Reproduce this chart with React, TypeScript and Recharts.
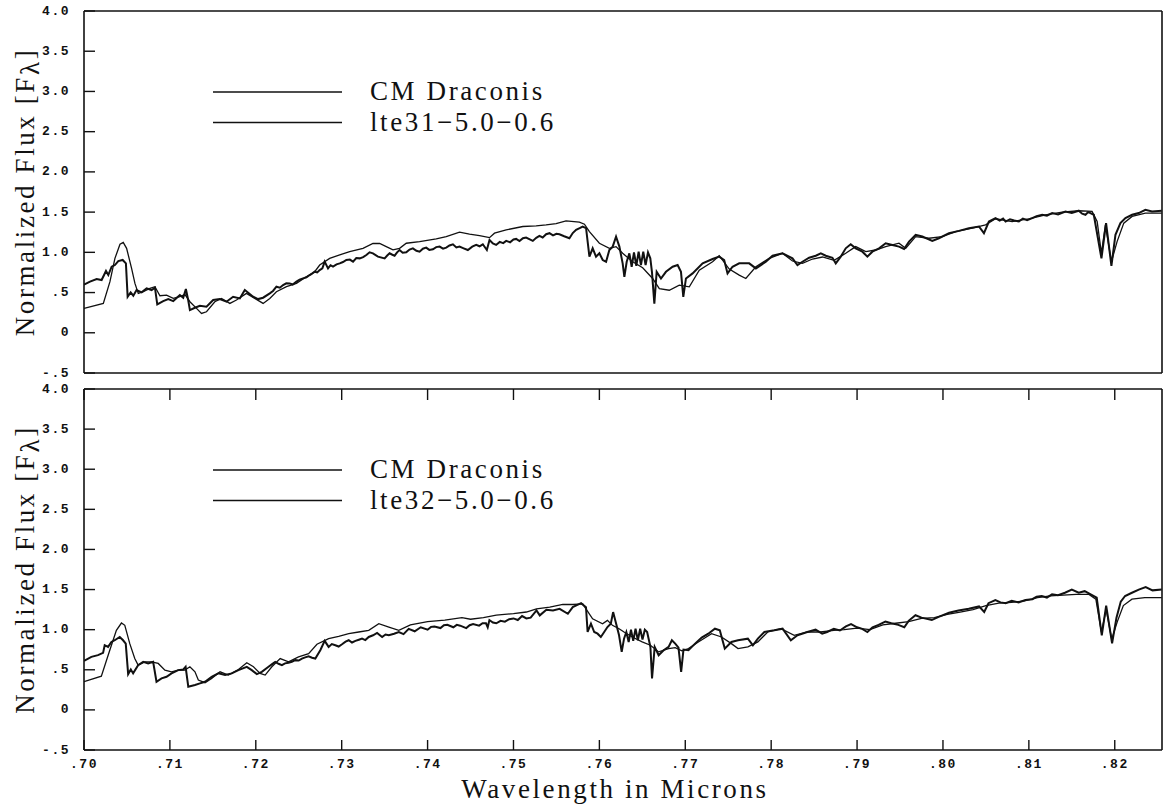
import React from 'react';
import { LineChart, Line, XAxis, YAxis, Legend } from 'recharts';

// ---------- axis ticks ----------
const xTicks = [0.70, 0.71, 0.72, 0.73, 0.74, 0.75, 0.76, 0.77, 0.78, 0.79, 0.80, 0.81, 0.82];
const xTickLabels = ['.70', '.71', '.72', '.73', '.74', '.75', '.76', '.77', '.78', '.79', '.80', '.81', '.82'];
const yTicks = [-0.5, 0, 0.5, 1, 1.5, 2, 2.5, 3, 3.5, 4];
const yTickLabels = ['-.5', '0', '.5', '1.0', '1.5', '2.0', '2.5', '3.0', '3.5', '4.0'];
const xDomain = [0.70, 0.8255];
const yDomain = [-0.5, 4];

// ---------- series names ----------
const observedName = 'CM Draconis';
const topModelName = 'lte31\u22125.0\u22120.6';
const bottomModelName = 'lte32\u22125.0\u22120.6';
const xTitle = 'Wavelength in Microns';

// ---------- top panel: CM Draconis ----------
const topObsWl = [
  0.70000, 0.70070, 0.70147, 0.70205, 0.70256, 0.70283, 0.70322, 0.70360, 0.70399, 0.70450,
  0.70488, 0.70508, 0.70543, 0.70574, 0.70612, 0.70671, 0.70729, 0.70787, 0.70826, 0.70853,
  0.70922, 0.70981, 0.71039, 0.71116, 0.71155, 0.71186, 0.71213, 0.71233, 0.71291, 0.71349,
  0.71426, 0.71504, 0.71581, 0.71659, 0.71736, 0.71814, 0.71872, 0.71969, 0.72027, 0.72085,
  0.72163, 0.72200, 0.72240, 0.72280, 0.72318, 0.72355, 0.72395, 0.72430, 0.72473, 0.72510,
  0.72550, 0.72590, 0.72628, 0.72655, 0.72686, 0.72715, 0.72744, 0.72775, 0.72802, 0.72841,
  0.72870, 0.72899, 0.72940, 0.72977, 0.73015, 0.73054, 0.73095, 0.73132, 0.73170, 0.73209,
  0.73250, 0.73287, 0.73325, 0.73364, 0.73422,
  0.73500, 0.73530, 0.73558, 0.73590, 0.73616, 0.73645, 0.73674, 0.73710, 0.73752, 0.73790,
  0.73829, 0.73870, 0.73907, 0.73945, 0.73984, 0.74020, 0.74062, 0.74100, 0.74140, 0.74180,
  0.74217, 0.74255, 0.74295, 0.74335, 0.74372, 0.74420, 0.74469, 0.74520, 0.74566, 0.74605,
  0.74643, 0.74690, 0.74721, 0.74760, 0.74798, 0.74840, 0.74880, 0.74915, 0.74960, 0.75000,
  0.75031, 0.75070, 0.75110, 0.75147, 0.75190, 0.75225, 0.75265, 0.75302, 0.75340, 0.75380,
  0.75419, 0.75460, 0.75500, 0.75535, 0.75590, 0.75651, 0.75690, 0.75729, 0.75770, 0.75806,
  0.75845, 0.75884,
  0.75922, 0.75961, 0.76000, 0.76039, 0.76078, 0.76116, 0.76155, 0.76194, 0.76233, 0.76271,
  0.76291, 0.76318, 0.76349, 0.76376, 0.76403, 0.76430, 0.76457, 0.76484, 0.76511, 0.76538,
  0.76566, 0.76593, 0.76612, 0.76640, 0.76667, 0.76717, 0.76775, 0.76853, 0.76911, 0.76950,
  0.76977, 0.77008, 0.77085, 0.77202, 0.77318, 0.77395, 0.77453, 0.77492, 0.77550, 0.77628,
  0.77744, 0.77822, 0.77938, 0.78016, 0.78132, 0.78209, 0.78248, 0.78306, 0.78364, 0.78442,
  0.78519, 0.78578, 0.78636, 0.78713, 0.78752, 0.78810, 0.78868, 0.78926, 0.78984, 0.79062,
  0.79120, 0.79178, 0.79256, 0.79333, 0.79411, 0.79488, 0.79547, 0.79605, 0.79682, 0.79760,
  0.79876, 0.79953, 0.80070, 0.80186, 0.80302, 0.80419, 0.80477, 0.80535, 0.80612, 0.80660,
  0.80700, 0.80729, 0.80780, 0.80830, 0.80884, 0.80930, 0.80980, 0.81039, 0.81090, 0.81155,
  0.81210, 0.81271, 0.81340, 0.81426, 0.81500, 0.81581, 0.81620, 0.81659, 0.81690, 0.81717,
  0.81756, 0.81845, 0.81899, 0.81961, 0.82008, 0.82066, 0.82124, 0.82202, 0.82279, 0.82357,
  0.82434, 0.82547,
];
const topObsFlux = [
  0.600, 0.635, 0.668, 0.656, 0.768, 0.718, 0.822, 0.842, 0.892, 0.905,
  0.863, 0.448, 0.502, 0.461, 0.531, 0.502, 0.552, 0.531, 0.560, 0.353,
  0.394, 0.419, 0.394, 0.469, 0.436, 0.544, 0.407, 0.282, 0.311, 0.336,
  0.324, 0.407, 0.419, 0.386, 0.448, 0.427, 0.531, 0.448, 0.419, 0.436,
  0.490, 0.520, 0.573, 0.560, 0.593, 0.615, 0.614, 0.600, 0.635, 0.660,
  0.676, 0.690, 0.718, 0.735, 0.759, 0.750, 0.780, 0.800, 0.884, 0.801,
  0.840, 0.822, 0.850, 0.863, 0.880, 0.905, 0.910, 0.884, 0.930, 0.925,
  0.940, 0.967, 1.000, 0.988, 0.946,
  0.925, 0.960, 0.988, 0.970, 0.958, 1.000, 1.029, 0.995, 1.000, 1.035,
  1.050, 1.020, 1.008, 1.045, 1.058, 1.030, 1.038, 1.065, 1.071, 1.045,
  1.058, 1.085, 1.100, 1.060, 1.071, 1.050, 1.029, 1.070, 1.092, 1.075,
  1.100, 1.029, 1.154, 1.110, 1.092, 1.130, 1.115, 1.142, 1.125, 1.160,
  1.167, 1.140, 1.175, 1.183, 1.160, 1.142, 1.180, 1.204, 1.185, 1.225,
  1.238, 1.210, 1.230, 1.225, 1.200, 1.175, 1.240, 1.279, 1.300, 1.321,
  1.300, 0.946,
  1.050, 0.946, 0.988, 0.904, 0.883, 1.029, 1.071, 1.196, 1.071, 0.863,
  0.696, 0.883, 0.988, 0.821, 1.000, 0.833, 1.008, 0.842, 1.008, 0.842,
  1.000, 0.925, 0.758, 0.363, 0.758, 0.675, 0.758, 0.821, 0.842, 0.758,
  0.446, 0.675, 0.738, 0.863, 0.917, 0.946, 0.904, 0.738, 0.821, 0.863,
  0.863, 0.800, 0.883, 0.958, 0.988, 0.946, 0.925, 0.842, 0.883, 0.933,
  0.958, 0.988, 0.958, 0.933, 0.863, 0.946, 1.050, 1.100, 1.050, 1.008,
  0.946, 1.008, 1.050, 1.113, 1.092, 1.071, 1.042, 1.133, 1.217, 1.196,
  1.142, 1.175, 1.238, 1.267, 1.300, 1.321, 1.238, 1.383, 1.425, 1.395,
  1.420, 1.383, 1.410, 1.395, 1.383, 1.420, 1.400, 1.425, 1.450, 1.467,
  1.455, 1.488, 1.470, 1.508, 1.490, 1.517, 1.480, 1.467, 1.500, 1.488,
  1.467, 0.925, 1.363, 0.833, 1.217, 1.363, 1.425, 1.467, 1.488, 1.529,
  1.508, 1.517,
];

// ---------- top panel: model lte31 ----------
const topModWl = [
  0.70000, 0.70225, 0.70302, 0.70360, 0.70419, 0.70457, 0.70496, 0.70554, 0.70593, 0.70632,
  0.70690, 0.70767, 0.70826, 0.70884, 0.70961, 0.71039, 0.71116, 0.71174, 0.71233, 0.71310,
  0.71368, 0.71426, 0.71523, 0.71601, 0.71698, 0.71775, 0.71891, 0.71988, 0.72085, 0.72163,
  0.72240, 0.72357, 0.72473, 0.72589, 0.72686, 0.72744, 0.72860, 0.72977, 0.73093, 0.73248,
  0.73364, 0.73442, 0.73519, 0.73597, 0.73674, 0.73752, 0.73907, 0.74101, 0.74217, 0.74372,
  0.74488, 0.74605, 0.74721, 0.74779, 0.74915, 0.75109, 0.75264, 0.75380, 0.75496, 0.75612,
  0.75767, 0.75826, 0.75884, 0.76000, 0.76116, 0.76194, 0.76271, 0.76388, 0.76504, 0.76620,
  0.76698, 0.76814, 0.76930, 0.77047, 0.77163, 0.77318, 0.77395, 0.77512, 0.77628, 0.77705,
  0.77822, 0.77977, 0.78132, 0.78248, 0.78364, 0.78481, 0.78597, 0.78733, 0.78868, 0.78984,
  0.79101, 0.79217, 0.79333, 0.79488, 0.79566, 0.79682, 0.79837, 0.79992, 0.80147, 0.80341,
  0.80496, 0.80612, 0.80806, 0.81000, 0.81194, 0.81388, 0.81581, 0.81736, 0.81795, 0.81845,
  0.81891, 0.81961, 0.82027, 0.82105, 0.82202, 0.82357, 0.82547,
];
const topModFlux = [
  0.303, 0.365, 0.635, 0.925, 1.100, 1.124, 1.050, 0.801, 0.614, 0.490,
  0.510, 0.552, 0.573, 0.461, 0.469, 0.427, 0.448, 0.477, 0.386, 0.303,
  0.241, 0.261, 0.386, 0.427, 0.365, 0.407, 0.490, 0.427, 0.365, 0.427,
  0.510, 0.573, 0.614, 0.697, 0.759, 0.842, 0.925, 0.967, 1.008, 1.050,
  1.112, 1.110, 1.070, 1.030, 1.050, 1.113, 1.133, 1.167, 1.196, 1.250,
  1.225, 1.208, 1.183, 1.238, 1.279, 1.321, 1.329, 1.342, 1.358, 1.392,
  1.375, 1.350, 1.258, 1.113, 1.050, 1.071, 0.988, 0.883, 0.808, 0.675,
  0.550, 0.529, 0.592, 0.571, 0.779, 0.883, 0.958, 0.792, 0.717, 0.675,
  0.821, 0.925, 0.988, 0.892, 0.863, 0.917, 0.942, 0.900, 0.988, 1.071,
  1.008, 1.029, 1.071, 1.113, 1.050, 1.196, 1.175, 1.196, 1.258, 1.300,
  1.342, 1.417, 1.383, 1.417, 1.467, 1.500, 1.517, 1.508, 1.383, 0.988,
  1.342, 0.883, 1.133, 1.363, 1.446, 1.488, 1.488,
];

// ---------- bottom panel: CM Draconis ----------
const botObsWl = [
  0.70000, 0.70086, 0.70163, 0.70222, 0.70241, 0.70280, 0.70319, 0.70358, 0.70416, 0.70455,
  0.70486, 0.70514, 0.70545, 0.70572, 0.70630, 0.70689, 0.70747, 0.70805, 0.70844, 0.70903,
  0.70961, 0.71019, 0.71097, 0.71156, 0.71183, 0.71214, 0.71292, 0.71350, 0.71409, 0.71486,
  0.71564, 0.71642, 0.71720, 0.71798, 0.71895, 0.71953, 0.72012, 0.72070,
  0.72148, 0.72190, 0.72226, 0.72265, 0.72304, 0.72340, 0.72381, 0.72420, 0.72459, 0.72500,
  0.72537, 0.72575, 0.72615, 0.72655, 0.72693, 0.72751, 0.72802, 0.72848, 0.72885, 0.72926,
  0.72965, 0.73004, 0.73045, 0.73082, 0.73120, 0.73160, 0.73200, 0.73237, 0.73275, 0.73315,
  0.73365, 0.73412, 0.73471, 0.73510, 0.73549, 0.73610, 0.73665,
  0.73720, 0.73780, 0.73850, 0.73920, 0.74000, 0.74040, 0.74080, 0.74150, 0.74190, 0.74230,
  0.74300, 0.74340, 0.74380, 0.74450, 0.74490, 0.74530, 0.74600, 0.74640, 0.74680, 0.74700,
  0.74720, 0.74760, 0.74800, 0.74850, 0.74900, 0.74950, 0.75000, 0.75050, 0.75100, 0.75150,
  0.75200, 0.75268,
  0.75306, 0.75383, 0.75460, 0.75537, 0.75633, 0.75690, 0.75787, 0.75844, 0.75863, 0.75902,
  0.75940, 0.75979, 0.76017, 0.76056, 0.76094, 0.76133, 0.76160, 0.76190, 0.76229, 0.76260,
  0.76287, 0.76314, 0.76341, 0.76368, 0.76394, 0.76421, 0.76448, 0.76475, 0.76502, 0.76529,
  0.76556, 0.76594, 0.76613, 0.76644, 0.76690, 0.76748, 0.76806, 0.76844, 0.76883, 0.76921,
  0.76952, 0.76979, 0.77037, 0.77114, 0.77191, 0.77268, 0.77345, 0.77402, 0.77460, 0.77537,
  0.77614, 0.77729, 0.77787, 0.77845, 0.77921, 0.78037, 0.78133, 0.78229, 0.78306, 0.78421,
  0.78517, 0.78594, 0.78652, 0.78729, 0.78800, 0.78870, 0.78930, 0.79000, 0.79060, 0.79120,
  0.79180, 0.79250, 0.79330, 0.79400, 0.79480, 0.79550, 0.79600, 0.79680, 0.79750, 0.79870,
  0.79950, 0.80070, 0.80180, 0.80300, 0.80420, 0.80480, 0.80530, 0.80610, 0.80670, 0.80730,
  0.80800, 0.80880, 0.80960, 0.81040, 0.81090, 0.81150, 0.81210, 0.81270, 0.81340, 0.81420,
  0.81500, 0.81580, 0.81650, 0.81720, 0.81790, 0.81849, 0.81900, 0.81969, 0.82020, 0.82070,
  0.82120, 0.82200, 0.82280, 0.82360, 0.82440, 0.82547,
];
const botObsFlux = [
  0.612, 0.661, 0.682, 0.711, 0.806, 0.785, 0.847, 0.868, 0.909, 0.868,
  0.826, 0.446, 0.504, 0.455, 0.558, 0.599, 0.579, 0.599, 0.351, 0.393,
  0.413, 0.455, 0.496, 0.504, 0.537, 0.289, 0.310, 0.331, 0.351, 0.413,
  0.455, 0.434, 0.455, 0.496, 0.537, 0.496, 0.446, 0.475,
  0.537, 0.570, 0.599, 0.575, 0.558, 0.580, 0.587, 0.600, 0.620, 0.615,
  0.640, 0.655, 0.669, 0.650, 0.640, 0.744, 0.860, 0.785, 0.820, 0.806,
  0.790, 0.818, 0.850, 0.868, 0.840, 0.860, 0.875, 0.888, 0.870, 0.909,
  0.930, 0.959, 0.909, 0.940, 0.930, 0.950, 0.971,
  0.945, 1.010, 0.980, 1.030, 1.000, 1.035, 1.040, 1.020, 1.055, 1.060,
  1.030, 1.060, 1.050, 1.020, 1.055, 1.070, 1.050, 1.080, 1.080, 1.030,
  1.120, 1.090, 1.080, 1.110, 1.100, 1.130, 1.140, 1.120, 1.170, 1.140,
  1.150, 1.240,
  1.178, 1.248, 1.240, 1.260, 1.198, 1.281, 1.331, 1.281, 0.971, 1.074,
  0.971, 0.950, 0.909, 0.971, 1.033, 1.074, 1.219, 1.095, 0.930, 0.723,
  0.888, 0.971, 0.847, 1.000, 0.860, 1.012, 0.868, 1.012, 0.876, 1.000,
  0.971, 0.785, 0.393, 0.785, 0.682, 0.744, 0.785, 0.868, 0.826, 0.777,
  0.475, 0.752, 0.744, 0.826, 0.901, 0.950, 1.012, 0.992, 0.764, 0.847,
  0.868, 0.888, 0.806, 0.888, 0.971, 0.992, 1.012, 0.868, 0.930, 0.971,
  1.000, 0.950, 0.971, 1.012, 0.990, 1.040, 1.070, 1.030, 1.010, 0.970,
  1.030, 1.060, 1.100, 1.080, 1.060, 1.030, 1.110, 1.180, 1.150, 1.120,
  1.160, 1.210, 1.240, 1.260, 1.290, 1.220, 1.330, 1.370, 1.340, 1.330,
  1.360, 1.340, 1.370, 1.380, 1.410, 1.420, 1.400, 1.440, 1.430, 1.460,
  1.500, 1.460, 1.480, 1.440, 1.400, 0.930, 1.300, 0.830, 1.150, 1.350,
  1.420, 1.460, 1.500, 1.530, 1.490, 1.500,
];

// ---------- bottom panel: model lte32 ----------
const botModWl = [
  0.70000, 0.70202, 0.70300, 0.70377, 0.70436, 0.70475, 0.70533, 0.70591, 0.70630, 0.70708,
  0.70786, 0.70864, 0.70942, 0.71019, 0.71097, 0.71175, 0.71233, 0.71292, 0.71331, 0.71409,
  0.71486, 0.71584, 0.71681, 0.71798, 0.71895, 0.71973, 0.72051, 0.72109, 0.72187, 0.72284,
  0.72381, 0.72498, 0.72615, 0.72712, 0.72848, 0.72965, 0.73082, 0.73198, 0.73315, 0.73432,
  0.73549, 0.73665, 0.73800, 0.74000, 0.74200, 0.74400, 0.74500, 0.74650, 0.74800, 0.75000,
  0.75150, 0.75268, 0.75422, 0.75575, 0.75690, 0.75806, 0.75844, 0.75921, 0.76037, 0.76094,
  0.76152, 0.76229, 0.76287, 0.76383, 0.76498, 0.76594, 0.76690, 0.76806, 0.76883, 0.76960,
  0.77037, 0.77152, 0.77306, 0.77422, 0.77537, 0.77614, 0.77729, 0.77845, 0.77960, 0.78114,
  0.78268, 0.78421, 0.78575, 0.78729, 0.78850, 0.79000, 0.79150, 0.79300, 0.79450, 0.79600,
  0.79750, 0.79900, 0.80050, 0.80200, 0.80350, 0.80500, 0.80650, 0.80800, 0.80950, 0.81100,
  0.81250, 0.81400, 0.81550, 0.81700, 0.81780, 0.81845, 0.81900, 0.81965, 0.82030, 0.82100,
  0.82200, 0.82350, 0.82547,
];
const botModFlux = [
  0.351, 0.421, 0.744, 0.992, 1.083, 1.054, 0.826, 0.640, 0.558, 0.599,
  0.599, 0.579, 0.496, 0.475, 0.496, 0.496, 0.537, 0.475, 0.372, 0.339,
  0.393, 0.475, 0.434, 0.504, 0.587, 0.537, 0.455, 0.434, 0.537, 0.640,
  0.599, 0.661, 0.702, 0.818, 0.888, 0.917, 0.950, 0.971, 0.992, 1.074,
  1.033, 0.992, 1.060, 1.100, 1.120, 1.150, 1.130, 1.150, 1.180, 1.200,
  1.220, 1.260, 1.281, 1.314, 1.314, 1.322, 1.260, 1.136, 1.074, 1.116,
  1.054, 1.012, 0.971, 0.909, 0.847, 0.806, 0.723, 0.764, 0.777, 0.736,
  0.764, 0.847, 0.950, 0.909, 0.826, 0.764, 0.785, 0.847, 0.971, 1.012,
  0.930, 0.971, 0.971, 0.992, 1.000, 1.020, 1.000, 1.060, 1.080, 1.100,
  1.140, 1.150, 1.190, 1.220, 1.250, 1.300, 1.330, 1.340, 1.360, 1.400,
  1.420, 1.430, 1.440, 1.440, 1.380, 0.970, 1.250, 0.880, 1.100, 1.300,
  1.380, 1.400, 1.400,
];

// ---------- helpers ----------
const toPoints = (wl: number[], flux: number[]) => wl.map((w, i) => ({ wl: w, flux: flux[i] }));

const INK = '#111';
const SERIF = "'Liberation Serif', 'Times New Roman', serif";
const MONO = "'Liberation Mono', 'DejaVu Sans Mono', monospace";
const serifStyle = { fontFamily: SERIF, fontSize: 27, letterSpacing: 2.6 };
const monoStyle = { fontFamily: MONO, fontSize: 13, fontWeight: 700, letterSpacing: 1.5 };

const findLabel = (ticks: number[], labels: string[], v: number) => {
  const i = ticks.findIndex((t) => Math.abs(t - v) < 1e-9);
  return i >= 0 ? labels[i] : '';
};

const YTick = (props: any) => {
  const { x, y, payload } = props;
  return (
    <text x={x} y={y} textAnchor="end" dominantBaseline="central" fill={INK} style={monoStyle}>
      {findLabel(yTicks, yTickLabels, payload.value)}
    </text>
  );
};

const XTick = (props: any) => {
  const { x, y, payload } = props;
  return (
    <text x={x} y={y} textAnchor="middle" dominantBaseline="hanging" fill={INK} style={monoStyle}>
      {findLabel(xTicks, xTickLabels, payload.value)}
    </text>
  );
};

const NoTick = () => <g />;

const YTitle = (props: any) => {
  const vb = props.viewBox || { x: 0, y: 0, width: 0, height: 0 };
  const cx = vb.x + 25;
  const cy = vb.y + vb.height / 2;
  return (
    <text transform={`translate(${cx},${cy}) rotate(-90)`} textAnchor="middle" dominantBaseline="central"
      fill={INK} style={serifStyle}>
      Normalized Flux [F<tspan dy={5}>λ</tspan><tspan dy={-5}>]</tspan>
    </text>
  );
};

const XTitle = (props: any) => {
  const vb = props.viewBox || { x: 0, y: 0, width: 0, height: 0 };
  return (
    <text x={vb.x + vb.width / 2 - 8} y={vb.y + 48} textAnchor="middle" fill={INK} style={serifStyle}>
      {xTitle}
    </text>
  );
};

const LegendBox = (props: any) => {
  const items = props.payload || [];
  return (
    <svg width={420} height={64} style={{ display: 'block', overflow: 'visible' }}>
      {items.map((it: any, i: number) => (
        <g key={i}>
          <line x1={0} x2={129} y1={10 + i * 30.5} y2={10 + i * 30.5} stroke={INK} strokeWidth={1.3} />
          <text x={157} y={10 + i * 30.5 + 8} fill={INK} style={serifStyle}>
            {it.value}
          </text>
        </g>
      ))}
    </svg>
  );
};

const axisLine = { stroke: INK, strokeWidth: 1.6 };
const tickLine = { stroke: INK, strokeWidth: 1.4 };

type PanelProps = {
  obs: { wl: number; flux: number }[];
  mod: { wl: number; flux: number }[];
  modelName: string;
  height: number;
  topAxisHeight: number;
  bottomAxisHeight: number;
  isBottom: boolean;
};

const Panel = ({ obs, mod, modelName, height, topAxisHeight, bottomAxisHeight, isBottom }: PanelProps) => (
  <LineChart width={1163} height={height} margin={{ top: 0, right: 0, bottom: 0, left: 0 }}>
    <XAxis xAxisId="t" orientation="top" dataKey="wl" type="number" domain={xDomain} ticks={xTicks}
      allowDataOverflow height={topAxisHeight} axisLine={axisLine}
      tickLine={isBottom ? tickLine : false} tickSize={-11} tick={NoTick} />
    <XAxis xAxisId="b" orientation="bottom" dataKey="wl" type="number" domain={xDomain} ticks={xTicks}
      allowDataOverflow height={bottomAxisHeight} axisLine={axisLine}
      tickLine={isBottom ? tickLine : false} tickSize={-10} tickMargin={19}
      tick={isBottom ? XTick : NoTick} label={isBottom ? XTitle : undefined} />
    <YAxis yAxisId="l" orientation="left" type="number" domain={yDomain} ticks={yTicks} width={84}
      axisLine={axisLine} tickLine={tickLine} tickSize={-11} tickMargin={25} tick={YTick}
      label={YTitle} />
    <YAxis yAxisId="r" orientation="right" type="number" domain={yDomain} ticks={yTicks} width={1}
      axisLine={axisLine} tickLine={tickLine} tickSize={-10} tick={NoTick} />
    <Legend layout="horizontal" verticalAlign="middle" align="center" content={LegendBox}
      wrapperStyle={{ left: 213, top: topAxisHeight + 70.7, width: 420, height: 64 }} />
    <Line xAxisId="b" yAxisId="l" data={obs} dataKey="flux" name={observedName} type="linear"
      stroke={INK} strokeWidth={2} dot={false} activeDot={false} isAnimationActive={false} />
    <Line xAxisId="b" yAxisId="l" data={mod} dataKey="flux" name={modelName} type="linear"
      stroke={INK} strokeWidth={1.3} dot={false} activeDot={false} isAnimationActive={false} />
  </LineChart>
);

export default function App() {
  const topObs = toPoints(topObsWl, topObsFlux);
  const topMod = toPoints(topModWl, topModFlux);
  const botObs = toPoints(botObsWl, botObsFlux);
  const botMod = toPoints(botModWl, botModFlux);
  return (
    <div style={{ position: 'absolute', left: 0, top: 0, width: 1163, height: 812, background: '#fff', overflow: 'hidden' }}>
      <div style={{ position: 'absolute', left: 0, top: 0 }}>
        <Panel obs={topObs} mod={topMod} modelName={topModelName} height={390}
          topAxisHeight={11} bottomAxisHeight={17} isBottom={false} />
      </div>
      <div style={{ position: 'absolute', left: 0, top: 373 }}>
        <Panel obs={botObs} mod={botMod} modelName={bottomModelName} height={439}
          topAxisHeight={16} bottomAxisHeight={62} isBottom={true} />
      </div>
    </div>
  );
}
